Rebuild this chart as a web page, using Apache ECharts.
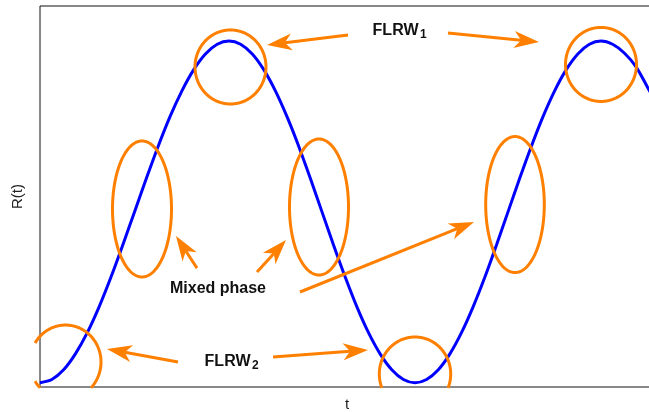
<!DOCTYPE html>
<html><head><meta charset="utf-8">
<script src="https://cdn.jsdelivr.net/npm/echarts@6/dist/echarts.min.js"></script>
<style>html,body{margin:0;padding:0;background:#fff}#c{width:649px;height:412px}</style>
</head><body><div id="c"></div>
<script>
// Curve samples (t, R)
const tValues = [
  0, 0.118, 0.236, 0.354, 0.473, 0.591, 0.709, 0.827, 0.945, 1.063, 1.181, 1.299, 1.418, 1.536, 1.654, 1.772, 1.89,
  2.006, 2.123, 2.239, 2.355, 2.471, 2.588, 2.704, 2.82, 2.936, 3.053, 3.169, 3.285, 3.401, 3.518, 3.634, 3.75,
  3.866, 3.983, 4.099, 4.215, 4.331, 4.448, 4.564, 4.68, 4.796, 4.913, 5.029, 5.145, 5.261, 5.378, 5.494, 5.61,
  5.726, 5.843, 5.959, 6.075, 6.14];
const rValues = [
  -1, -0.981, -0.924, -0.831, -0.707, -0.556, -0.383, -0.195, 0, 0.195, 0.383, 0.556, 0.707, 0.831, 0.924, 0.981, 1,
  0.981, 0.924, 0.831, 0.707, 0.556, 0.383, 0.195, 0, -0.195, -0.383, -0.556, -0.707, -0.831, -0.924, -0.981, -1,
  -0.981, -0.924, -0.831, -0.707, -0.556, -0.383, -0.195, 0, 0.195, 0.383, 0.556, 0.707, 0.831, 0.924, 0.981, 1,
  0.981, 0.93, 0.85, 0.73, 0.66];

// Annotation ellipses: centre (t, R) and radii (t, R)
const ellipseCentersT = [1.905, 5.61, 3.75, 0.255, 1.02, 2.79, 4.75];
const ellipseCentersR = [0.848, 0.863, -0.949, -0.879, 0.017, 0.0285, 0.043];
const ellipseRadT = [0.355, 0.355, 0.357, 0.355, 0.295, 0.295, 0.293];
const ellipseRadR = [0.2166, 0.2166, 0.2166, 0.2166, 0.398, 0.398, 0.398];

// Arrows: from (t1,R1) to (t2,R2)
const arrowFromT = [3.08, 4.08, 1.38, 2.33, 1.57, 2.17, 2.60];
const arrowFromR = [1.035, 1.047, -0.879, -0.849, -0.329, -0.352, -0.469];
const arrowToT   = [2.27, 4.99, 0.67, 3.28, 1.36, 2.46, 4.34];
const arrowToR   = [0.977, 0.994, -0.803, -0.808, -0.141, -0.165, -0.059];

// Text labels
const labelT = [3.79, 2.11, 1.78];
const labelR = [1.0616, -0.877, -0.4514];
const labelMain = ['FLRW', 'FLRW', 'Mixed phase'];
const labelSub = ['1', '2', ''];

const ORANGE = '#FF8000';
const BLUE = '#0000FF';
const FONT = '"Liberation Sans", Arial, sans-serif';

const curveData = tValues.map((t, i) => [t, rValues[i]]);
const ellipseData = ellipseCentersT.map((t, i) => [t, ellipseCentersR[i], ellipseRadT[i], ellipseRadR[i]]);
const arrowData = arrowFromT.map((t, i) => [t, arrowFromR[i], arrowToT[i], arrowToR[i]]);
const labelData = labelT.map((t, i) => [t, labelR[i]]);

function renderEllipse(params, api) {
  const c = api.coord([api.value(0), api.value(1)]);
  const s = api.size([api.value(2), api.value(3)]);
  const cs = params.coordSys;
  const x0 = cs.x - 5, x1 = cs.x + cs.width, y0 = cs.y, y1 = cs.y + cs.height + 1;
  const N = 360;
  const inside = [], pts = [];
  for (let i = 0; i <= N; i++) {
    const a = i / N * 2 * Math.PI;
    const x = c[0] + s[0] * Math.cos(a), y = c[1] + s[1] * Math.sin(a);
    pts.push([x, y]);
    inside.push(x >= x0 && x <= x1 && y >= y0 && y <= y1);
  }
  let runs = [], cur = [];
  for (let i = 0; i <= N; i++) {
    if (inside[i]) cur.push(pts[i]);
    else { if (cur.length > 1) runs.push(cur); cur = []; }
  }
  if (cur.length > 1) runs.push(cur);
  if (runs.length > 1 && inside[0] && inside[N]) {
    const last = runs.pop();
    runs[0] = last.concat(runs[0]);
  }
  return {
    type: 'group',
    children: runs.map(r => ({
      type: 'polyline', shape: { points: r },
      style: { stroke: ORANGE, lineWidth: 3, fill: 'none' }
    }))
  };
}

function renderArrow(params, api) {
  const p1 = api.coord([api.value(0), api.value(1)]);
  const p2 = api.coord([api.value(2), api.value(3)]);
  const dx = p2[0] - p1[0], dy = p2[1] - p1[1];
  const L = Math.hypot(dx, dy), ux = dx / L, uy = dy / L, nx = -uy, ny = ux;
  const HL = 25, HW = 8.5, NOTCH = 18;
  const bx = p2[0] - ux * HL, by = p2[1] - uy * HL;
  const nxp = p2[0] - ux * NOTCH, nyp = p2[1] - uy * NOTCH;
  return {
    type: 'group',
    children: [
      { type: 'line', shape: { x1: p1[0], y1: p1[1], x2: nxp, y2: nyp },
        style: { stroke: ORANGE, lineWidth: 3 } },
      { type: 'polygon', shape: { points: [p2, [bx + nx * HW, by + ny * HW], [nxp, nyp], [bx - nx * HW, by - ny * HW]] },
        style: { fill: ORANGE } }
    ]
  };
}

function renderLabel(params, api) {
  const p = api.coord([api.value(0), api.value(1)]);
  const i = params.dataIndex;
  const sub = labelSub[i];
  const children = [{
    type: 'text', x: sub ? p[0] - 0.5 : p[0], y: p[1],
    style: { text: labelMain[i], font: 'bold 16px ' + FONT, fill: '#111',
      align: sub ? 'right' : 'center', verticalAlign: 'middle' }
  }];
  if (sub) children.push({
    type: 'text', x: p[0] + 1, y: p[1] + 3.7,
    style: { text: sub, font: 'bold 12px ' + FONT, fill: '#111', align: 'left', verticalAlign: 'middle' }
  });
  return { type: 'group', children };
}

const chart = echarts.init(document.getElementById('c'), null, { renderer: 'canvas' });
chart.setOption({
  animation: false,
  backgroundColor: '#fff',
  grid: { left: 40, top: 6, right: -5, bottom: 25, show: true, borderColor: '#111', borderWidth: 1,
    backgroundColor: 'transparent', containLabel: false, outerBoundsMode: 'none' },
  xAxis: {
    type: 'value', min: 0, max: 6.14,
    name: 't', nameLocation: 'middle', nameGap: 10,
    nameTextStyle: { fontSize: 15, color: '#222', fontFamily: FONT },
    axisLine: { show: false }, axisTick: { show: false }, axisLabel: { show: false }, splitLine: { show: false }
  },
  yAxis: {
    type: 'value', min: -1.025, max: 1.205,
    name: 'R(t)', nameLocation: 'middle', nameGap: 15,
    nameTextStyle: { fontSize: 15, color: '#222', fontFamily: FONT },
    axisLine: { show: false }, axisTick: { show: false }, axisLabel: { show: false }, splitLine: { show: false }
  },
  series: [
    { type: 'line', data: curveData, smooth: 0.3, showSymbol: false, symbol: 'none',
      lineStyle: { color: BLUE, width: 3 }, z: 2 },
    { type: 'custom', data: ellipseData, renderItem: renderEllipse, clip: false, z: 3 },
    { type: 'custom', data: arrowData, renderItem: renderArrow, clip: false, z: 4 },
    { type: 'custom', data: labelData, renderItem: renderLabel, clip: false, z: 5 }
  ]
});
</script>
</body></html>
